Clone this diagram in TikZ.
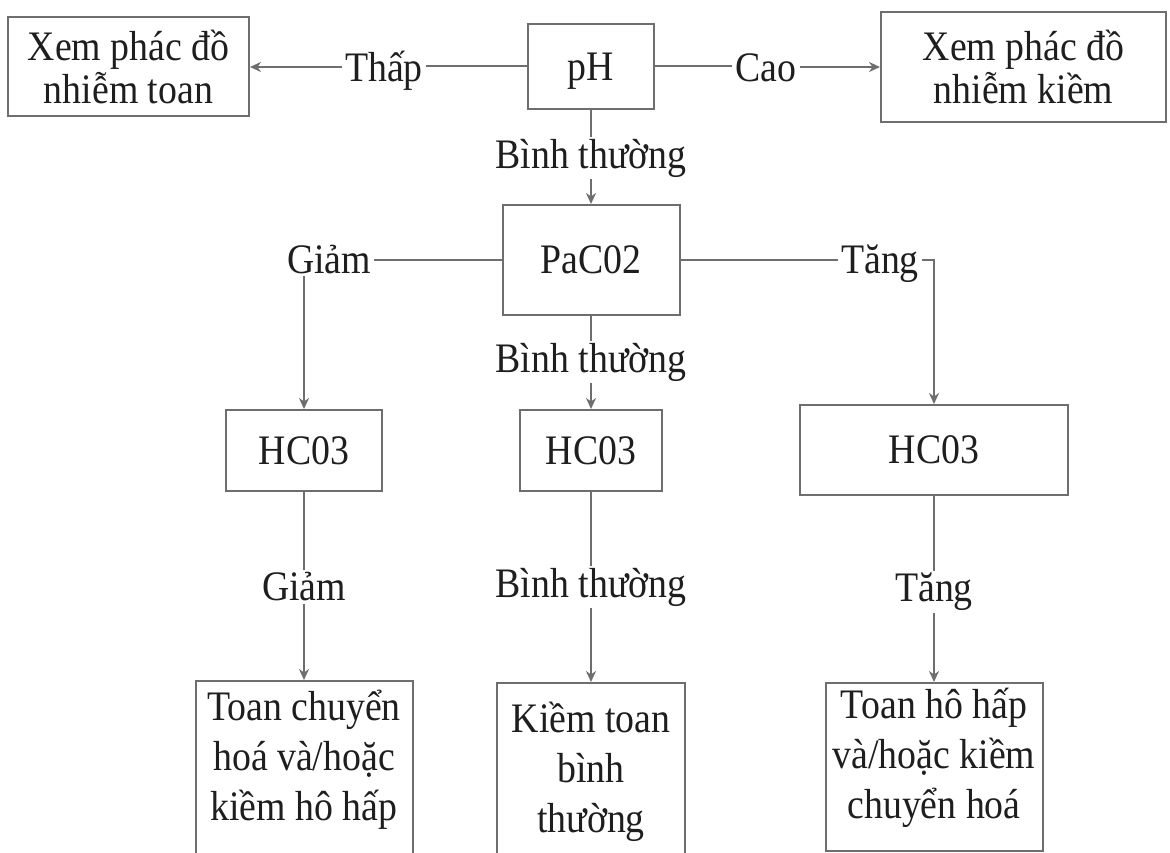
\documentclass[tikz,border=0pt]{standalone}
\usepackage{fontspec}
\setmainfont[FakeStretch=0.9]{Liberation Serif}
\usetikzlibrary{arrows.meta}
\definecolor{ln}{HTML}{6E6E6E}
\definecolor{tx}{HTML}{1E1E1E}
\begin{document}
\begin{tikzpicture}[x=1pt,y=-1pt,
  box/.style={draw=ln,line width=2pt,inner sep=0pt,text=tx,align=center,font=\fontsize{42}{43}\selectfont},
  lab/.style={text=tx,inner xsep=3pt,inner ysep=2pt,font=\fontsize{42}{43}\selectfont},
  blab/.style={lab,anchor=base},
  btext/.style={text=tx,align=center,inner sep=0pt,font=\fontsize{42}{50}\selectfont},
  conn/.style={draw=ln,line width=2pt},
  arr/.style={conn,-{Stealth[length=11pt,width=10pt]}}]
\clip (0,0) rectangle (1170,853);
\fill[white] (0,0) rectangle (1170,853);
% top row
\node[box,minimum width=126pt,minimum height=85pt,text depth=0pt] (ph) at (591,66.5) {pH};
\node[box,minimum width=241pt,minimum height=99pt] (L) at (128.5,67) {Xem phác đồ\\nhiễm toan};
\node[box,minimum width=285pt,minimum height=110pt] (R) at (1023.5,67) {Xem phác đồ\\nhiễm kiềm};
\node[blab] (lo) at (384,82) {Thấp};
\node[blab] (hi) at (766,82) {Cao};
\draw[conn] (ph.west) -- (ph.west -| lo.east);
\draw[arr] (L.east -| lo.west) -- (L.east);
\draw[conn] (ph.east) -- (ph.east -| hi.west);
\draw[arr] (R.west -| hi.east) -- (R.west);
\node[lab] (n1) at (591,158) {Bình thường};
\draw[conn] (ph) -- (n1);
% PaCO2
\node[box,minimum width=177pt,minimum height=110pt] (pa) at (591,260) {PaC02};
\draw[arr] (n1) -- (pa);
\node[blab] (g1) at (329,273) {Giảm};
\node[blab] (t1) at (880,273) {Tăng};
\draw[conn] (pa.west) -- (pa.west -| g1.east);
\draw[conn] (pa.east) -- (pa.east -| t1.west);
% HCO3 row
\node[box,minimum width=156pt,minimum height=81pt] (h1) at (304,450.5) {HC03};
\node[box,minimum width=142pt,minimum height=81pt] (h2) at (591,450.5) {HC03};
\node[box,minimum width=268pt,minimum height=90pt] (h3) at (934,450) {HC03};
\coordinate (tc) at (pa.east -| h3.north);
\draw[arr] (pa.east -| t1.east) -- (tc) -- (h3.north);
\draw[arr] (g1.south -| h1.north) -- (h1.north);
\node[lab] (n2) at (591,362) {Bình thường};
\draw[conn] (pa) -- (n2);
\draw[arr] (n2) -- (h2);
% bottom row
\node[lab] (g2) at (304,587) {Giảm};
\node[lab] (n3) at (591,587) {Bình thường};
\node[lab] (t2) at (934,592) {Tăng};
\node[box,minimum width=217pt,minimum height=200pt,anchor=north] (b1) at (304,680) {};
\node[box,minimum width=188pt,minimum height=200pt,anchor=north] (b2) at (591,682) {};
\node[box,minimum width=217pt,minimum height=168pt,anchor=north] (b3) at (934,682) {};
\node[btext] (b1t) at (304,760) {Toan chuyển\\hoá và/hoặc\\kiềm hô hấp};
\node[btext] (b2t) at (591,772) {Kiềm toan\\bình\\thường};
\node[btext] (b3t) at (934,758) {Toan hô hấp\\và/hoặc kiềm\\chuyển hoá};
\draw[conn] (h1) -- (g2);
\draw[arr] (g2) -- (b1);
\draw[conn] (h2) -- (n3);
\draw[arr] (n3) -- (b2);
\draw[conn] (h3) -- (t2);
\draw[arr] (t2) -- (b3);
\end{tikzpicture}
\end{document}
